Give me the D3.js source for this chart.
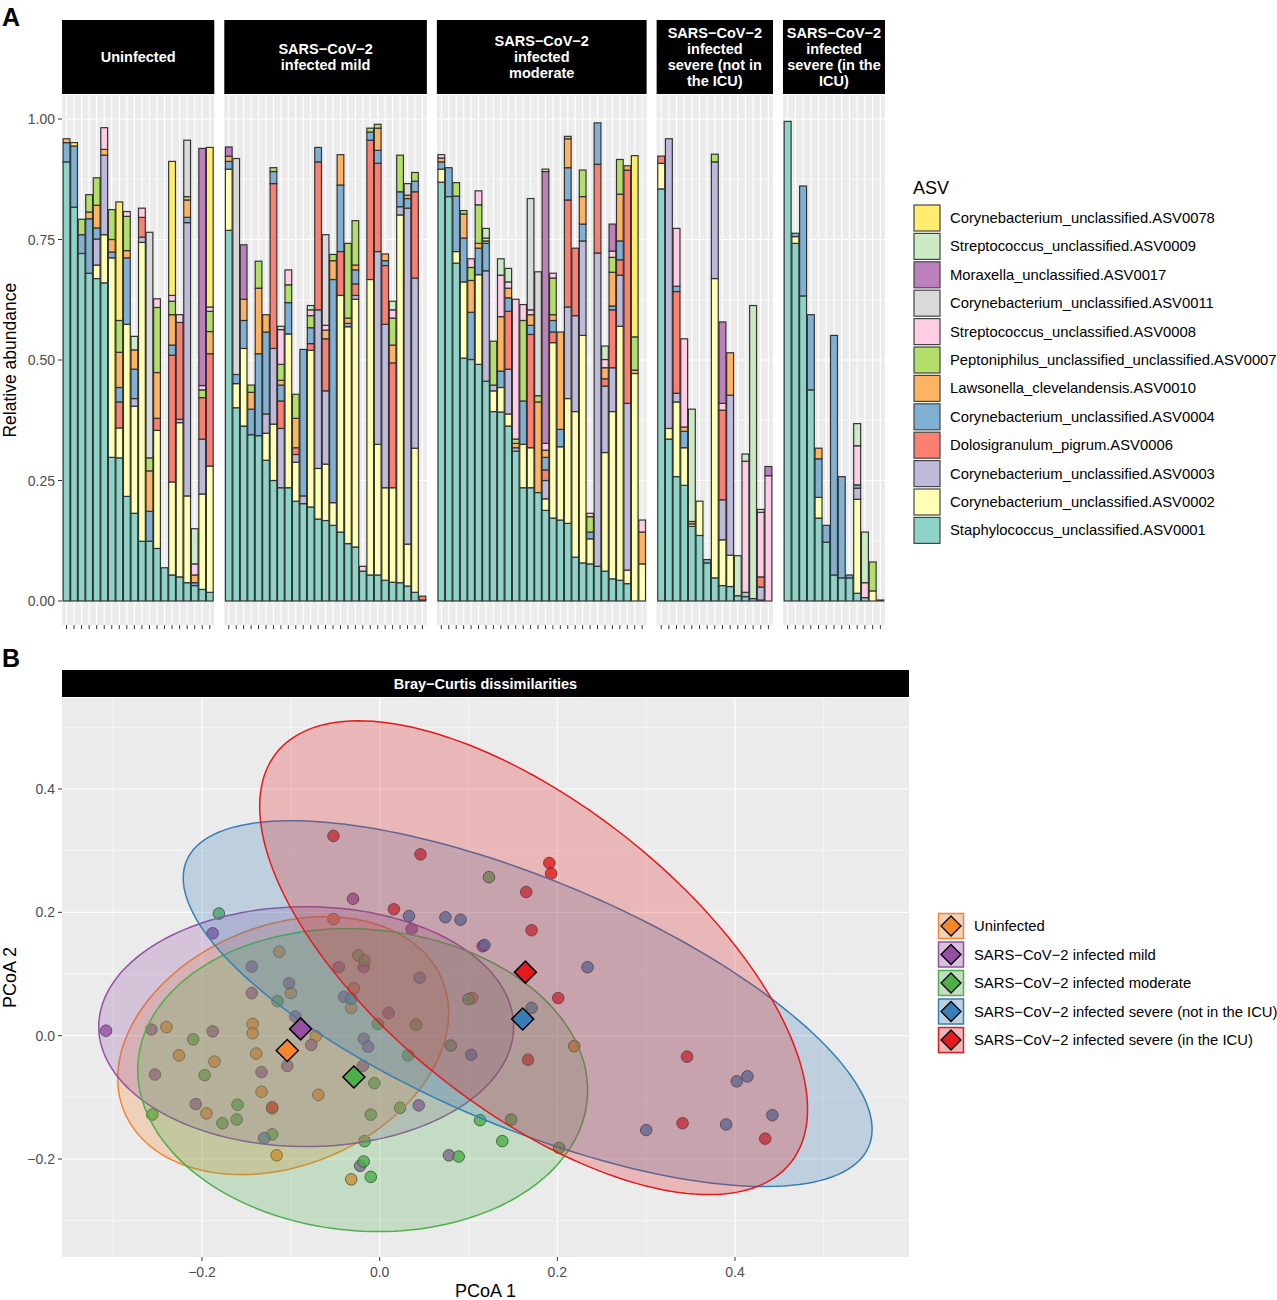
<!DOCTYPE html>
<html lang="en">
<head>
<meta charset="UTF-8">
<title>Nasopharyngeal microbiota by COVID-19 severity</title>
<script src="https://d3js.org/d3.v7.min.js"></script>
<style>
  body { margin: 0; background: #fff; font-family: "Liberation Sans", Arial, sans-serif; }
  svg { display: block; }
  .tick-label { font-size: 14px; fill: #4d4d4d; }
  .axis-title { font-size: 17.5px; fill: #000; }
  .strip-text { font-size: 14.5px; font-weight: bold; fill: #fff; }
  .legend-text { font-size: 14.8px; fill: #000; }
</style>
</head>
<body>
<svg id="chart" width="1277" height="1300"></svg>
<script>
// ---- panel A data: stack order bottom -> top ----
var asvNames = [
  "Staphylococcus_unclassified.ASV0001",
  "Corynebacterium_unclassified.ASV0002",
  "Corynebacterium_unclassified.ASV0003",
  "Dolosigranulum_pigrum.ASV0006",
  "Corynebacterium_unclassified.ASV0004",
  "Lawsonella_clevelandensis.ASV0010",
  "Peptoniphilus_unclassified_unclassified.ASV0007",
  "Streptococcus_unclassified.ASV0008",
  "Corynebacterium_unclassified.ASV0011",
  "Moraxella_unclassified.ASV0017",
  "Streptococcus_unclassified.ASV0009",
  "Corynebacterium_unclassified.ASV0078"
];
var asvColors = ["#8dd3c7", "#ffffb3", "#bebada", "#fb8072", "#80b1d3", "#fdb462",
                 "#b3de69", "#fccde5", "#d9d9d9", "#bc80bd", "#ccebc5", "#ffed6f"];

var groupNames = [
  "Uninfected",
  "SARS\u2212CoV\u22122 infected mild",
  "SARS\u2212CoV\u22122 infected moderate",
  "SARS\u2212CoV\u22122 infected severe (not in the ICU)",
  "SARS\u2212CoV\u22122 infected severe (in the ICU)"
];
var stripLines = [
  ["Uninfected"],
  ["SARS\u2212CoV\u22122", "infected mild"],
  ["SARS\u2212CoV\u22122", "infected", "moderate"],
  ["SARS\u2212CoV\u22122", "infected", "severe (not in", "the ICU)"],
  ["SARS\u2212CoV\u22122", "infected", "severe (in the", "ICU)"]
];
var groupColors = ["#f7852a", "#954fa3", "#4daf4a", "#377eb8", "#e41a1c"];

// relative abundance per sample, one value per ASV in stack order
var uninfected = [
  [.911,0,0,0,.040,.008,0,0,0,0,0,0],
  [.817,0,0,0,.127,0,0,0,0,0,0,.007],
  [.721,0,0,0,.039,0,.032,0,0,0,0,0],
  [.680,0,0,0,.113,.014,.036,0,0,0,0,0],
  [.669,.028,.054,0,.023,.047,.057,0,0,0,0,0],
  [.660,.100,.165,0,0,.012,0,.045,0,0,0,0],
  [.298,.414,0,0,.012,.026,.062,0,0,0,0,0],
  [.297,.062,0,.054,.030,.073,.066,0,0,0,0,.246],
  [.217,.357,0,0,.138,.015,.071,.010,0,0,0,0],
  [.182,.222,.016,0,.061,.040,0,0,0,0,.028,0],
  [.124,.620,.011,.041,0,0,0,.019,0,0,0,0],
  [.124,0,0,0,.062,.084,.027,0,.468,0,0,0],
  [.109,.245,0,.025,0,.095,.135,.018,0,0,0,0],
  [.069,0,0,0,0,0,0,0,0,0,0,0],
  [.054,.193,0,.263,.021,.063,.028,.012,0,0,0,.278],
  [.050,.320,.007,.201,0,0,0,.016,0,0,0,0],
  [.038,.180,.567,0,.011,.036,.007,0,.117,0,0,0],
  [.032,0,0,0,.006,.016,0,.023,0,0,.073,0],
  [.024,.198,.114,.086,0,0,.016,.009,0,.492,0,0],
  [.018,.262,0,.233,0,.046,.042,.009,0,0,0,.331]
];
var mild = [
  [.769,.127,0,0,.016,.011,0,0,0,.019,0,0],
  [.401,.050,0,0,.019,0,0,0,.448,0,0,0],
  [.363,.161,0,0,.058,.044,0,0,0,.113,0,0],
  [.345,0,0,0,.053,.035,.015,0,0,0,0,0],
  [.343,0,0,0,.170,.136,.056,0,0,0,0,0],
  [.292,.056,.040,0,.170,.036,0,0,0,0,0,0],
  [.250,.117,.157,.342,.025,0,.008,0,0,0,0,0],
  [.235,0,.123,.057,.033,.010,.033,.072,0,0,.007,0],
  [.235,.319,0,0,.065,0,.037,.031,0,0,0,0],
  [.207,.081,.016,.014,0,.061,.050,0,0,0,0,0],
  [.202,0,.016,0,.304,0,0,0,0,0,0,0],
  [.195,.325,0,.014,.033,0,.025,.012,0,0,.009,0],
  [.170,.105,.329,.307,.030,0,0,0,0,0,0,0],
  [.167,.117,.152,.108,0,.018,0,.010,.188,0,0,0],
  [.157,.047,0,0,.463,.039,.013,0,0,0,0,0],
  [.143,.491,0,.091,.138,.063,0,0,0,0,0,0],
  [.119,.450,0,0,.007,.011,.155,0,0,0,0,0],
  [.112,.514,.008,.024,.029,.010,.092,0,0,0,0,0],
  [.062,0,0,0,0,0,0,.010,0,0,0,0],
  [.054,.613,0,.289,.017,0,.008,0,0,0,0,0],
  [.054,.271,.400,.183,.027,.046,.008,0,0,0,0,0],
  [.043,.192,.339,.122,.010,.014,0,0,0,0,0,0],
  [.039,.196,0,.259,0,.037,.056,.017,0,0,.018,0],
  [.038,.763,.017,0,.031,0,.076,0,0,0,0,0],
  [.031,.087,.697,0,.020,.007,0,0,.024,0,0,0],
  [.018,.299,.353,.179,.022,0,.018,0,0,0,0,0],
  [.002,0,0,.008,0,0,0,0,0,0,0,0]
];
var moderate = [
  [.869,.027,0,0,.015,.008,0,.007,0,0,0,0],
  [.839,0,0,0,.060,0,0,0,0,0,0,0],
  [.701,.024,0,0,.115,0,.028,0,0,0,0,0],
  [.504,.158,0,0,.091,.050,.007,0,0,0,0,0],
  [.501,0,0,0,.098,.066,.027,.018,0,0,0,0],
  [.491,.186,0,0,.055,.010,.080,.029,0,0,0,0],
  [.456,0,.229,0,.057,0,.005,.006,0,0,.020,0],
  [.393,.043,.012,0,0,0,.091,0,0,0,0,0],
  [.392,.051,0,0,.034,.113,0,.086,0,0,.034,0],
  [.363,.025,.093,.120,.028,.020,0,.013,0,0,.028,0],
  [.311,0,.007,0,0,.009,.009,.290,0,0,0,0],
  [.235,.090,0,0,.090,0,.167,.033,0,0,0,0],
  [.235,.083,0,.235,.019,.022,0,.010,.231,0,0,0],
  [.225,0,0,0,0,.188,.013,0,.257,0,0,0],
  [.188,.024,.038,.022,.026,.015,0,.014,0,.564,.005,0],
  [.172,.364,0,.022,.024,.012,.076,.010,0,0,0,0],
  [.168,.152,0,0,.036,.202,0,0,0,0,0,0],
  [.161,.259,.190,.222,.067,.060,.005,0,0,0,0,0],
  [.091,.302,.199,.140,0,0,0,0,0,0,0,0],
  [.079,.472,.196,0,.035,.057,.055,0,0,0,0,0],
  [.077,.052,0,0,.014,0,.032,.007,0,0,0,0],
  [.072,0,.650,.184,.086,0,0,0,0,0,0,0],
  [.062,.246,.138,.015,0,.023,0,.017,0,0,.028,0],
  [.046,.347,.091,.120,.008,.070,.031,.013,0,.056,0,0],
  [.043,.527,.106,.032,.039,.097,.072,0,0,0,0,0],
  [.036,.028,.346,.484,0,.009,0,0,0,0,0,0],
  [0,.472,0,0,0,.007,.069,0,0,0,0,.376],
  [0,.077,0,0,0,.066,0,.025,0,0,0,0]
];
var severeWard = [
  [.855,.053,0,.015,0,0,0,0,0,0,0,0],
  [.336,.022,.601,0,0,0,0,0,0,0,0,0],
  [.258,.155,.018,.211,.011,0,0,.120,0,0,0,0],
  [.240,.078,0,0,.034,.009,0,.183,0,0,0,0],
  [.155,.005,0,0,0,.005,0,0,0,0,.233,0],
  [.136,.071,0,0,0,0,0,0,0,0,0,0],
  [.079,0,0,0,.007,0,0,0,0,0,0,0],
  [.048,.621,.242,0,0,0,.016,0,0,0,0,0],
  [.032,.095,.083,.186,0,0,0,.014,0,.169,0,0],
  [.030,.065,.332,0,0,.088,0,0,0,0,0,0],
  [.011,0,0,0,0,0,0,0,0,0,.083,0],
  [.009,0,.009,0,0,0,0,.272,0,0,.015,0],
  [.005,0,0,0,0,0,0,0,0,0,.608,0],
  [.002,0,.027,.021,0,0,0,.134,0,0,.006,0],
  [0,0,0,0,0,0,0,.260,0,.019,0,0]
];
var severeIcu = [
  [.995,0,0,0,0,0,0,0,0,0,0,0],
  [.742,.014,0,0,.007,0,0,0,0,0,0,0],
  [.633,0,0,0,.228,0,0,0,0,0,0,0],
  [.438,0,0,0,.156,0,0,0,0,0,0,0],
  [.172,.043,0,0,.080,.022,0,0,0,0,0,0],
  [.122,0,0,0,.035,0,0,0,0,0,0,0],
  [.054,0,0,0,.497,0,0,0,0,0,0,0],
  [.048,0,0,0,.210,0,0,0,0,0,0,0],
  [.048,0,0,0,.006,0,0,0,0,0,0,0],
  [.016,.195,.023,0,.007,0,0,.081,0,0,.046,0],
  [.007,0,0,0,0,0,0,.031,0,0,.105,0],
  [0,.021,0,0,0,0,.060,0,0,0,0,0],
  [.002,0,0,0,0,0,0,0,0,0,0,0]
];
var abundanceTicks = [0, 0.25, 0.5, 0.75, 1];

// ---- panel B data: PCoA coordinates [PCoA1, PCoA2] ----
var pcoaUninfected = [
  [-0.052,0.189],[-0.113,0.136],[-0.100,0.069],[-0.029,0.077],[-0.032,0.045],
  [-0.240,0.014],[-0.143,0.019],[-0.143,0.004],[-0.072,-0.001],[-0.226,-0.032],
  [-0.186,-0.042],[-0.139,-0.029],[-0.133,-0.091],[-0.069,-0.096],[-0.195,-0.126],
  [-0.121,-0.118],[-0.116,-0.194],[-0.032,-0.233],[0.219,-0.017],[0.104,0.061]
];
var pcoaMild = [
  [-0.030,0.222],[0.036,0.173],[0.116,0.145],[-0.188,0.166],[-0.144,0.112],
  [-0.046,0.111],[-0.018,0.111],[-0.102,0.085],[-0.144,0.069],[-0.040,0.063],
  [-0.095,0.031],[-0.308,0.008],[-0.257,0.010],[-0.188,0.007],[-0.077,-0.015],
  [-0.104,-0.049],[-0.253,-0.063],[-0.133,-0.059],[-0.207,-0.111],[-0.019,-0.049],
  [-0.022,-0.211],[0.044,-0.113],[0.010,0.037],[-0.018,-0.005],[-0.013,-0.018],
  [0.078,-0.194]
];
var pcoaModerate = [
  [0.123,0.257],[-0.181,0.198],[-0.024,0.130],[-0.017,0.122],[-0.115,0.056],
  [-0.210,-0.006],[-0.197,-0.064],[-0.160,-0.112],[-0.161,-0.136],[-0.177,-0.142],
  [-0.256,-0.128],[-0.121,-0.160],[-0.006,-0.077],[-0.010,-0.128],[-0.017,-0.171],
  [-0.018,-0.204],[-0.010,-0.229],[0.023,-0.117],[0.032,-0.032],[-0.002,0.019],
  [0.089,-0.196],[0.113,-0.137],[0.148,-0.136],[0.138,-0.171],[0.202,-0.182],
  [0.100,0.059],[0.041,0.018],[0.080,-0.016]
];
var pcoaSevereWard = [
  [0.033,0.194],[0.074,0.192],[0.091,0.188],[0.402,-0.074],[0.414,-0.066],
  [0.300,-0.153],[0.390,-0.144],[0.442,-0.129],[0.234,0.111],[-0.032,0.060],
  [-0.130,-0.166],[0.045,0.094],[0.118,0.147],[0.171,0.045],[0.103,-0.031]
];
var pcoaSevereIcu = [
  [-0.052,0.324],[0.046,0.294],[0.016,0.205],[0.191,0.280],[0.193,0.263],
  [0.165,0.233],[0.171,0.171],[0.201,0.061],[0.167,-0.039],[0.346,-0.034],
  [0.341,-0.142],[0.434,-0.167],[-0.121,-0.116]
];
// group centroids (diamonds)
var centroids = [[-0.104,-0.024],[-0.089,0.011],[-0.029,-0.067],[0.161,0.027],[0.164,0.103]];
// ellipse centre and shape matrix [cx, cy, sxx, syy, sxy] in PCoA units
var ellipseShapes = [
  [-0.1086, -0.0162, 0.03470, 0.04371, 0.00985],
  [-0.0827,  0.0146, 0.05454, 0.03783, 0.00000],
  [-0.0191, -0.0721, 0.06413, 0.06029, -0.00420],
  [ 0.1666,  0.0519, 0.15034, 0.08797, -0.07899],
  [ 0.1733,  0.1264, 0.09510, 0.14755, -0.07570]
];
var pcoaTicks = [-0.2, 0, 0.2, 0.4];
var pcoaMinor = [-0.3, -0.1, 0.1, 0.3, 0.5];

var svg = d3.select("#chart");

// panel letters
svg.append("text").attr("x", 2).attr("y", 26).style("font-size", "25px").style("font-weight", "bold").text("A");
svg.append("text").attr("x", 2).attr("y", 667).style("font-size", "25px").style("font-weight", "bold").text("B");

// ================= Panel A =================
var yA = d3.scaleLinear().domain([0, 1]).range([601, 119]);
var panelTop = yA(1.049), panelBottom = yA(-0.05);
var facets = [uninfected, mild, moderate, severeWard, severeIcu];
var leftA = 62, rightA = 885, gapA = 10;
var units = facets.map(function(d) { return d.length + 1.2; });
var unit = (rightA - leftA - gapA * (facets.length - 1)) / d3.sum(units);
var stack = d3.stack().keys(d3.range(asvNames.length)).value(function(d, k) { return d[k]; });

// y axis
abundanceTicks.forEach(function(t) {
  svg.append("line").attr("x1", leftA - 4).attr("x2", leftA).attr("y1", yA(t)).attr("y2", yA(t))
    .attr("stroke", "#333").attr("stroke-width", 1);
  svg.append("text").attr("class", "tick-label").attr("x", leftA - 7).attr("y", yA(t) + 5)
    .attr("text-anchor", "end").text(d3.format(".2f")(t));
});
svg.append("text").attr("class", "axis-title")
  .attr("transform", "translate(16," + ((panelTop + panelBottom) / 2) + ") rotate(-90)")
  .attr("text-anchor", "middle").text("Relative abundance");

var fx0 = leftA;
facets.forEach(function(samples, fi) {
  var w = units[fi] * unit;
  var x = d3.scaleLinear().domain([0.4, samples.length + 0.6]).range([fx0, fx0 + w]);
  var g = svg.append("g");

  g.append("rect").attr("x", fx0).attr("y", panelTop).attr("width", w).attr("height", panelBottom - panelTop)
    .attr("fill", "#ebebeb");
  [0.125, 0.375, 0.625, 0.875].forEach(function(t) {
    g.append("line").attr("x1", fx0).attr("x2", fx0 + w).attr("y1", yA(t)).attr("y2", yA(t))
      .attr("stroke", "#fff").attr("stroke-width", 0.6);
  });
  abundanceTicks.forEach(function(t) {
    g.append("line").attr("x1", fx0).attr("x2", fx0 + w).attr("y1", yA(t)).attr("y2", yA(t))
      .attr("stroke", "#fff").attr("stroke-width", 1.2);
  });
  samples.forEach(function(s, i) {
    g.append("line").attr("x1", x(i + 1)).attr("x2", x(i + 1)).attr("y1", panelTop).attr("y2", panelBottom)
      .attr("stroke", "#fff").attr("stroke-width", 1.2);
  });

  var series = stack(samples);
  var bw = 0.9 * (x(1) - x(0));
  series.forEach(function(layer, k) {
    layer.forEach(function(seg, i) {
      if (seg[1] - seg[0] <= 0) return;
      g.append("rect")
        .attr("x", x(i + 1) - bw / 2).attr("width", bw)
        .attr("y", yA(seg[1])).attr("height", yA(seg[0]) - yA(seg[1]))
        .attr("fill", asvColors[k]).attr("stroke", "#333").attr("stroke-width", 1.2);
    });
  });

  // x ticks
  samples.forEach(function(s, i) {
    g.append("line").attr("x1", x(i + 1)).attr("x2", x(i + 1)).attr("y1", panelBottom).attr("y2", panelBottom + 4)
      .attr("stroke", "#333").attr("stroke-width", 1);
  });

  // strip
  g.append("rect").attr("x", fx0).attr("y", 20).attr("width", w).attr("height", 74).attr("fill", "#000");
  var lines = stripLines[fi];
  var lh = 15.7;
  var ty = 57 - (lines.length - 1) * lh / 2 + 5;
  lines.forEach(function(l, li) {
    g.append("text").attr("class", "strip-text").attr("x", fx0 + w / 2).attr("y", ty + li * lh)
      .attr("text-anchor", "middle").text(l);
  });

  fx0 += w + gapA;
});

// legend A
svg.append("text").attr("x", 913).attr("y", 194).style("font-size", "18px").text("ASV");
var legendOrder = d3.range(asvNames.length).reverse();
legendOrder.forEach(function(k, i) {
  var cy = 218 + i * 28.4;
  svg.append("rect").attr("x", 914).attr("y", cy - 13).attr("width", 26).attr("height", 26)
    .attr("fill", asvColors[k]).attr("stroke", "#444").attr("stroke-width", 1.2);
  svg.append("text").attr("class", "legend-text").attr("x", 950).attr("y", cy + 5).text(asvNames[k]);
});

// ================= Panel B =================
var xB = d3.scaleLinear().domain([-0.2, 0.4]).range([202, 735]);
var yB = d3.scaleLinear().domain([-0.2, 0.4]).range([1159, 789]);
var bL = 62, bR = 909, bT = 698, bB = 1257;

svg.append("rect").attr("x", bL).attr("y", 670).attr("width", bR - bL).attr("height", 27).attr("fill", "#000");
svg.append("text").attr("class", "strip-text").attr("x", (bL + bR) / 2).attr("y", 689)
  .attr("text-anchor", "middle").text("Bray\u2212Curtis dissimilarities");

svg.append("defs").append("clipPath").attr("id", "clipB").append("rect")
  .attr("x", bL).attr("y", bT).attr("width", bR - bL).attr("height", bB - bT);
var gB = svg.append("g").attr("clip-path", "url(#clipB)");
gB.append("rect").attr("x", bL).attr("y", bT).attr("width", bR - bL).attr("height", bB - bT).attr("fill", "#ebebeb");
pcoaMinor.forEach(function(t) {
  gB.append("line").attr("x1", xB(t)).attr("x2", xB(t)).attr("y1", bT).attr("y2", bB).attr("stroke", "#fff").attr("stroke-width", 0.6);
  gB.append("line").attr("x1", bL).attr("x2", bR).attr("y1", yB(t)).attr("y2", yB(t)).attr("stroke", "#fff").attr("stroke-width", 0.6);
});
pcoaTicks.forEach(function(t) {
  gB.append("line").attr("x1", xB(t)).attr("x2", xB(t)).attr("y1", bT).attr("y2", bB).attr("stroke", "#fff").attr("stroke-width", 1.2);
  gB.append("line").attr("x1", bL).attr("x2", bR).attr("y1", yB(t)).attr("y2", yB(t)).attr("stroke", "#fff").attr("stroke-width", 1.2);
});

var pointSets = [pcoaUninfected, pcoaMild, pcoaModerate, pcoaSevereWard, pcoaSevereIcu];
pointSets.forEach(function(pts, gi) {
  gB.selectAll(null).data(pts).enter().append("circle")
    .attr("cx", function(d) { return xB(d[0]); })
    .attr("cy", function(d) { return yB(d[1]); })
    .attr("r", 5.8)
    .attr("fill", groupColors[gi]).attr("fill-opacity", 0.8)
    .attr("stroke", "#222").attr("stroke-opacity", 0.7).attr("stroke-width", 1);
});

function ellipsePath(e) {
  var a = Math.sqrt(e[2]), b = e[4] / a, c = Math.sqrt(e[3] - b * b);
  var pts = d3.range(0, 2 * Math.PI, Math.PI / 90).map(function(t) {
    return [xB(e[0] + a * Math.cos(t)), yB(e[1] + b * Math.cos(t) + c * Math.sin(t))];
  });
  return d3.line().curve(d3.curveLinearClosed)(pts);
}
ellipseShapes.forEach(function(e, gi) {
  gB.append("path").attr("d", ellipsePath(e))
    .attr("fill", groupColors[gi]).attr("fill-opacity", 0.25)
    .attr("stroke", groupColors[gi]).attr("stroke-width", 1.5);
});

function diamond(cx, cy, r) {
  return "M" + cx + "," + (cy - r) + "L" + (cx + r) + "," + cy + "L" + cx + "," + (cy + r) + "L" + (cx - r) + "," + cy + "Z";
}
centroids.forEach(function(c, gi) {
  gB.append("path").attr("d", diamond(xB(c[0]), yB(c[1]), 11))
    .attr("fill", groupColors[gi]).attr("stroke", "#000").attr("stroke-width", 1.5);
});

// axes B
pcoaTicks.forEach(function(t) {
  svg.append("line").attr("x1", xB(t)).attr("x2", xB(t)).attr("y1", bB).attr("y2", bB + 4).attr("stroke", "#333");
  svg.append("text").attr("class", "tick-label").attr("x", xB(t)).attr("y", bB + 20)
    .attr("text-anchor", "middle").text(d3.format(".1f")(t));
  svg.append("line").attr("x1", bL - 4).attr("x2", bL).attr("y1", yB(t)).attr("y2", yB(t)).attr("stroke", "#333");
  svg.append("text").attr("class", "tick-label").attr("x", bL - 7).attr("y", yB(t) + 5)
    .attr("text-anchor", "end").text(d3.format(".1f")(t));
});
svg.append("text").attr("class", "axis-title").attr("x", (bL + bR) / 2).attr("y", 1297)
  .attr("text-anchor", "middle").style("font-size", "18px").text("PCoA 1");
svg.append("text").attr("class", "axis-title")
  .attr("transform", "translate(16," + ((bT + bB) / 2) + ") rotate(-90)")
  .attr("text-anchor", "middle").style("font-size", "18px").text("PCoA 2");

// legend B
groupNames.forEach(function(name, gi) {
  var cy = 926 + gi * 28.5;
  svg.append("rect").attr("x", 938).attr("y", cy - 13).attr("width", 26).attr("height", 26)
    .attr("fill", "#ebebeb");
  svg.append("rect").attr("x", 938.5).attr("y", cy - 12.5).attr("width", 25).attr("height", 25)
    .attr("fill", groupColors[gi]).attr("fill-opacity", 0.25)
    .attr("stroke", groupColors[gi]).attr("stroke-width", 1.5);
  svg.append("path").attr("d", diamond(951, cy, 10))
    .attr("fill", groupColors[gi]).attr("stroke", "#000").attr("stroke-width", 1.3);
  svg.append("text").attr("class", "legend-text").attr("x", 974).attr("y", cy + 5).text(name);
});
</script>
</body>
</html>
